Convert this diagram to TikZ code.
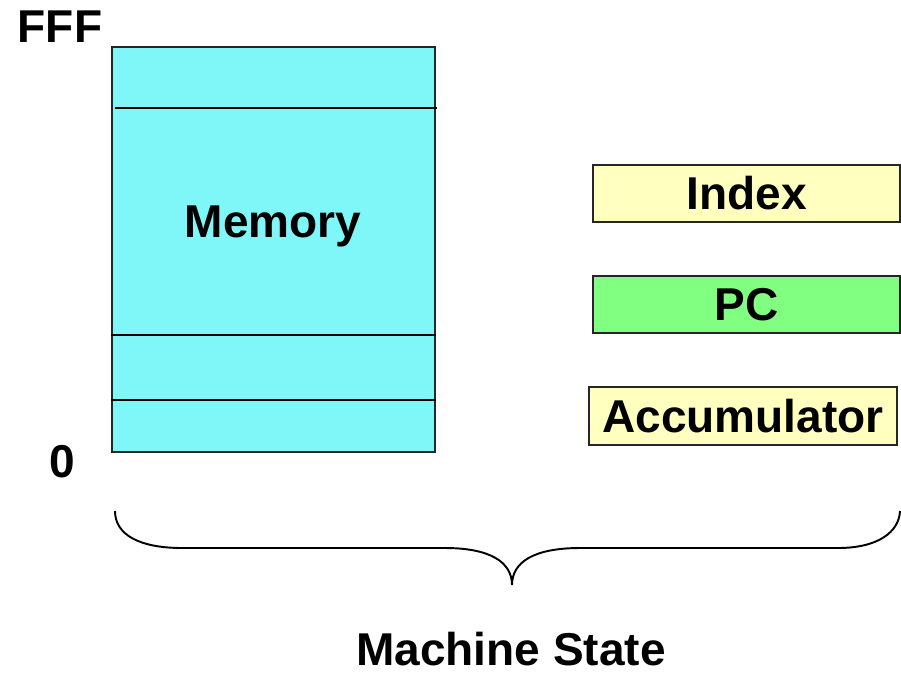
\documentclass[tikz,border=0pt]{standalone}
\usepackage{fontspec}
\setmainfont{Liberation Sans}
\usepackage{xcolor}
\usetikzlibrary{positioning, calc}

\definecolor{memcyan}{HTML}{7FF7F8}
\definecolor{regyellow}{HTML}{FFFFC0}
\definecolor{reggreen}{HTML}{80FF80}

\begin{document}
\begin{tikzpicture}[
        x=0.02cm, y=-0.02cm,
        font=\fontsize{26.2}{30}\selectfont\bfseries,
        membox/.style={draw=black!85, line width=1pt, fill=memcyan, minimum width=6.46cm, minimum height=8.1cm, inner sep=0pt},
        divider/.style={line width=1.2pt},
        reg/.style={draw=black!85, line width=1pt, fill=#1, minimum width=6.14cm, minimum height=1.14cm, inner sep=0pt},
        reg/.default=regyellow,
        label/.style={inner sep=0pt},
    ]
    \useasboundingbox (0,0) rectangle (901,673);

    % Memory block
    \node[membox] (mem) at (273.5,249.5) {};
    \draw[divider] (115,108) -- (437,108);
    \draw[divider] (mem.west |- 0,335) -- (mem.east |- 0,335);
    \draw[divider] (mem.west |- 0,400) -- (mem.east |- 0,400);
    \node[label] (memtext) at (273,226) {Memory};

    % Address labels
    \node[label] (top) at (60,27) {FFF};
    \node[label] (bottom) at (62,462) {0};

    % Registers
    \node[reg=regyellow] (index) at (746.5,193.5) {Index};
    \node[reg=reggreen] (pc) at (746.5,304.5) {PC};
    \node[reg=regyellow, minimum width=6.16cm, minimum height=1.16cm] (acc) at (743,416) {Accumulator};

    % Brace under everything
    \coordinate (bl) at (115,511);
    \coordinate (tip) at (512,585);
    \coordinate (br) at (900,511);
    \draw[line width=1.1pt] (bl) .. controls (115,535) and (140,548) .. (182,548)
        -- (445,548) .. controls (490,548) and (512,562) .. (tip)
        .. controls (512,562) and (534,548) .. (580,548)
        -- (838,548) .. controls (878,548) and (899,532) .. (br);

    \node[label] (state) at (511,649) {Machine State};
\end{tikzpicture}
\end{document}
